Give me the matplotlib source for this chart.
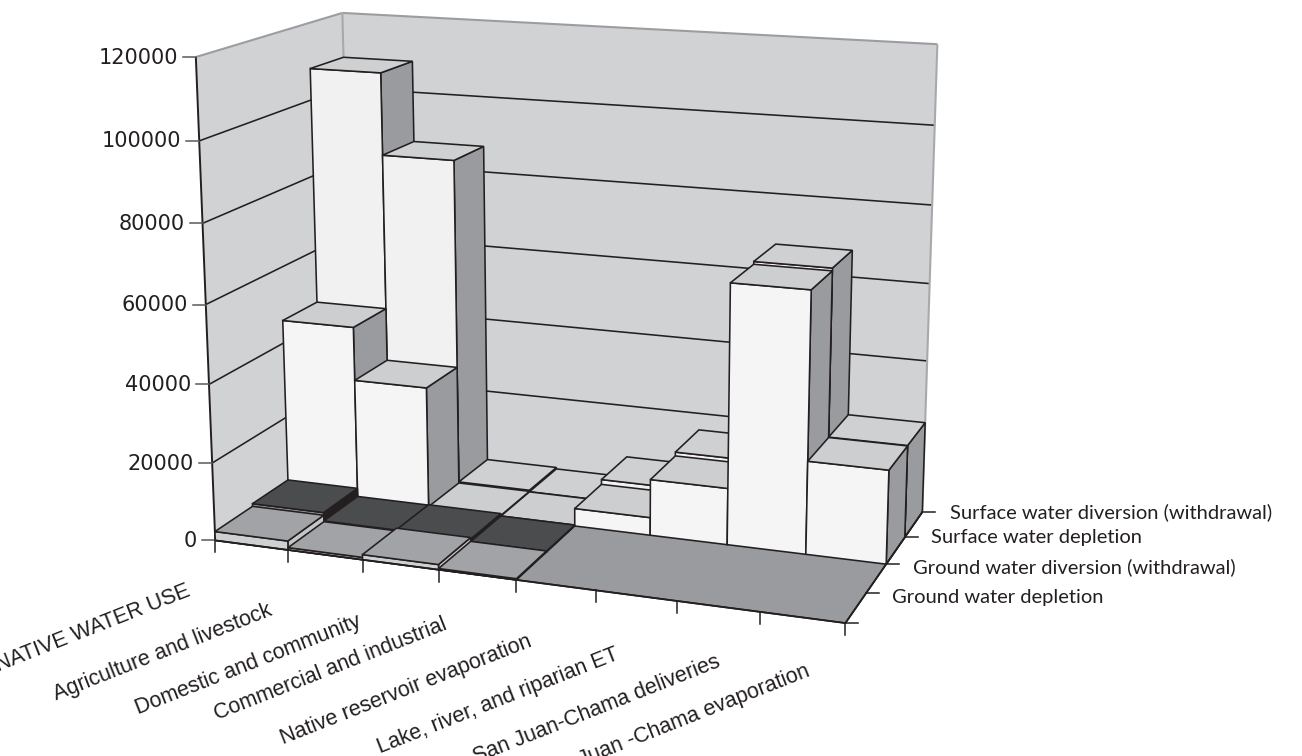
import numpy as np
import matplotlib
matplotlib.use("Agg")
import matplotlib.pyplot as plt

# Water use, acre-feet per year
categories = ["TOTAL NATIVE WATER USE", "Agriculture and livestock", "Domestic and community",
              "Commercial and industrial", "Native reservoir evaporation",
              "Lake, river, and riparian ET", "San Juan-Chama deliveries",
              "San Juan -Chama evaporation"]
series_names = ["Ground water depletion", "Ground water diversion (withdrawal)",
                "Surface water depletion", "Surface water diversion (withdrawal)"]
ground_depletion = [2300, 600, 1300, 300, 0, 0, 0, 0]
ground_diversion = [3000, 800, 900, 250, 0, 0, 0, 0]
surface_depletion = [46000, 32000, 400, 250, 4600, 14500, 66200, 23700]
surface_diversion = [108200, 86800, 700, 300, 5900, 15500, 66900, 23800]
y_ticks = [0, 20000, 40000, 60000, 80000, 100000, 120000]
Y_MAX = 120000

INK = "#231f20"
WALL = "#d1d2d4"
FLOOR = "#9a9b9e"
EDGE_GRAY = "#9c9da0"
LW = 1.15

# Face colours per series: front, top, right side
face_colors = [("#cfd0d2", "#a2a3a6", "#c4c5c7"),
               ("#96979a", "#4b4c4e", INK),
               ("#f5f5f5", "#cdced0", "#9a9b9e"),
               ("#f1f1f1", "#cfd0d2", "#9a9b9e")]

# Camera: a projective map (category, depth, value fraction) -> canvas position,
# solved from reference points of the chart box.
anchors = [
    (0, 0, 0, 214.7, 540), (0, 0, 1/6, 212, 462), (0, 0, 2/6, 208.5, 383), (0, 0, 3/6, 205.5, 304),
    (0, 0, 4/6, 203, 224), (0, 0, 5/6, 200, 141), (0, 0, 1, 197, 58),
    (1, 0, 0, 287, 549.6), (2, 0, 0, 362.7, 559.7), (3, 0, 0, 437.7, 569.7), (4, 0, 0, 516.7, 580),
    (5, 0, 0, 596.5, 590.8), (6, 0, 0, 677, 601.5), (7, 0, 0, 760, 612.6), (8, 0, 0, 846, 624),
    (8, 1, 0, 866.7, 592.5), (8, 2, 0, 886, 564), (8, 3, 0, 904, 536.5), (8, 4, 0, 921.7, 511),
    (0, 4, 1, 340, 12), (8, 4, 1, 938, 45), (8, 4, 0.5, 930, 283), (0, 4, 0, 356, 449),
]


def solve_camera(points):
    rows = []
    for x, z, v, u, w in points:
        u, w = u / 1000, w / 1000
        p = [x / 8, z / 4, v, 1]
        rows.append(p + [0, 0, 0, 0] + [-u * c for c in p])
        rows.append([0, 0, 0, 0] + p + [-w * c for c in p])
    _, _, vt = np.linalg.svd(np.array(rows))
    return vt[-1].reshape(3, 4)


CAM = solve_camera(anchors)


def project(x, z, value):
    h = CAM @ np.array([x / 8, z / 4, value / Y_MAX, 1.0])
    return h[0] / h[2] * 1000, h[1] / h[2] * 1000


fig = plt.figure(figsize=(13.02, 7.56), dpi=100, facecolor="white")
ax = fig.add_axes([0, 0, 1, 1])
ax.set_xlim(0, 1302)
ax.set_ylim(756, 0)
ax.axis("off")

order = [1]


def next_z():
    order[0] += 1
    return order[0]


def face(corners, color, edge=INK, lw=LW):
    pts = [project(*c) for c in corners]
    ax.fill(*zip(*pts), facecolor=color, edgecolor=edge, linewidth=lw,
            joinstyle="miter", zorder=next_z())


def line(a, b, color=INK, lw=LW):
    pa, pb = project(*a), project(*b)
    ax.plot([pa[0], pb[0]], [pa[1], pb[1]], color=color, lw=lw,
            solid_capstyle="butt", zorder=next_z())


# Walls and floor
face([(0, 4, 0), (8, 4, 0), (8, 4, Y_MAX), (0, 4, Y_MAX)], WALL, edge="none", lw=0)
face([(0, 0, 0), (0, 4, 0), (0, 4, Y_MAX), (0, 0, Y_MAX)], WALL, edge="none", lw=0)
for t in y_ticks[1:-1]:
    line((0, 0, t), (0, 4, t))
    line((0, 4, t), (8, 4, t))
line((0, 0, Y_MAX), (0, 4, Y_MAX), EDGE_GRAY, 1.5)
line((0, 4, Y_MAX), (8, 4, Y_MAX), EDGE_GRAY, 1.5)
line((0, 4, 0), (0, 4, Y_MAX), "#a7a9ac", 1.5)
line((8, 4, 0), (8, 4, Y_MAX), "#a7a9ac", 1.5)
face([(0, 0, 0), (8, 0, 0), (8, 4, 0), (0, 4, 0)], FLOOR)
line((0, 0, 0), (0, 0, Y_MAX), INK, 1.4)

# Bars, back row first, left to right so nearer faces cover farther ones
rows = [ground_depletion, ground_diversion, surface_depletion, surface_diversion]
for z in (3, 2, 1, 0):
    front, top, side = face_colors[z]
    for x, value in enumerate(rows[z]):
        if value <= 0:
            continue
        face([(x + 1, z, 0), (x + 1, z + 1, 0), (x + 1, z + 1, value), (x + 1, z, value)], side)
        face([(x, z, 0), (x + 1, z, 0), (x + 1, z, value), (x, z, value)], front)
        face([(x, z, value), (x + 1, z, value), (x + 1, z + 1, value), (x, z + 1, value)], top)

# Floor front edge and right edge over the bars
line((0, 0, 0), (8, 0, 0), INK, 1.3)
line((8, 0, 0), (8, 4, 0), INK, 1.3)

# Value axis
for t in y_ticks:
    px, py = project(0, 0, t)
    ax.plot([px - 13, px], [py, py], color="#58595b", lw=1.1, zorder=next_z())
    ax.text(px - 18, py + 0.5, str(t), ha="right", va="center", fontsize=15,
            family="DejaVu Sans", color=INK, zorder=next_z())

# Category axis
for i in range(9):
    px, py = project(i, 0, 0)
    ax.plot([px, px], [py, py + 12], color=INK, lw=1.1, zorder=next_z())

label_ends = [(189, 590), (271, 610), (360, 621), (446, 624), (531, 641), (618, 654), (719, 661), (809, 671)]
for name, (ex, ey) in zip(categories, label_ends):
    ax.text(ex, ey, name, rotation=21.5, rotation_mode="anchor", ha="right", va="center",
            fontsize=15.5, family=["Liberation Sans Narrow", "Liberation Sans"], color=INK,
            zorder=next_z())

# Depth axis
label_starts = [(892, 598), (913, 567), (931, 538), (950, 512)]
for i in range(5):
    px, py = project(8, i, 0)
    ax.plot([px, px + 13], [py, py], color=INK, lw=1.1, zorder=next_z())
for name, (sx, sy) in zip(series_names, label_starts):
    ax.text(sx, sy, name, ha="left", va="center", fontsize=14.5, family="Lato", color=INK,
            zorder=next_z())

fig.savefig("out.png", dpi=100, facecolor="white")
